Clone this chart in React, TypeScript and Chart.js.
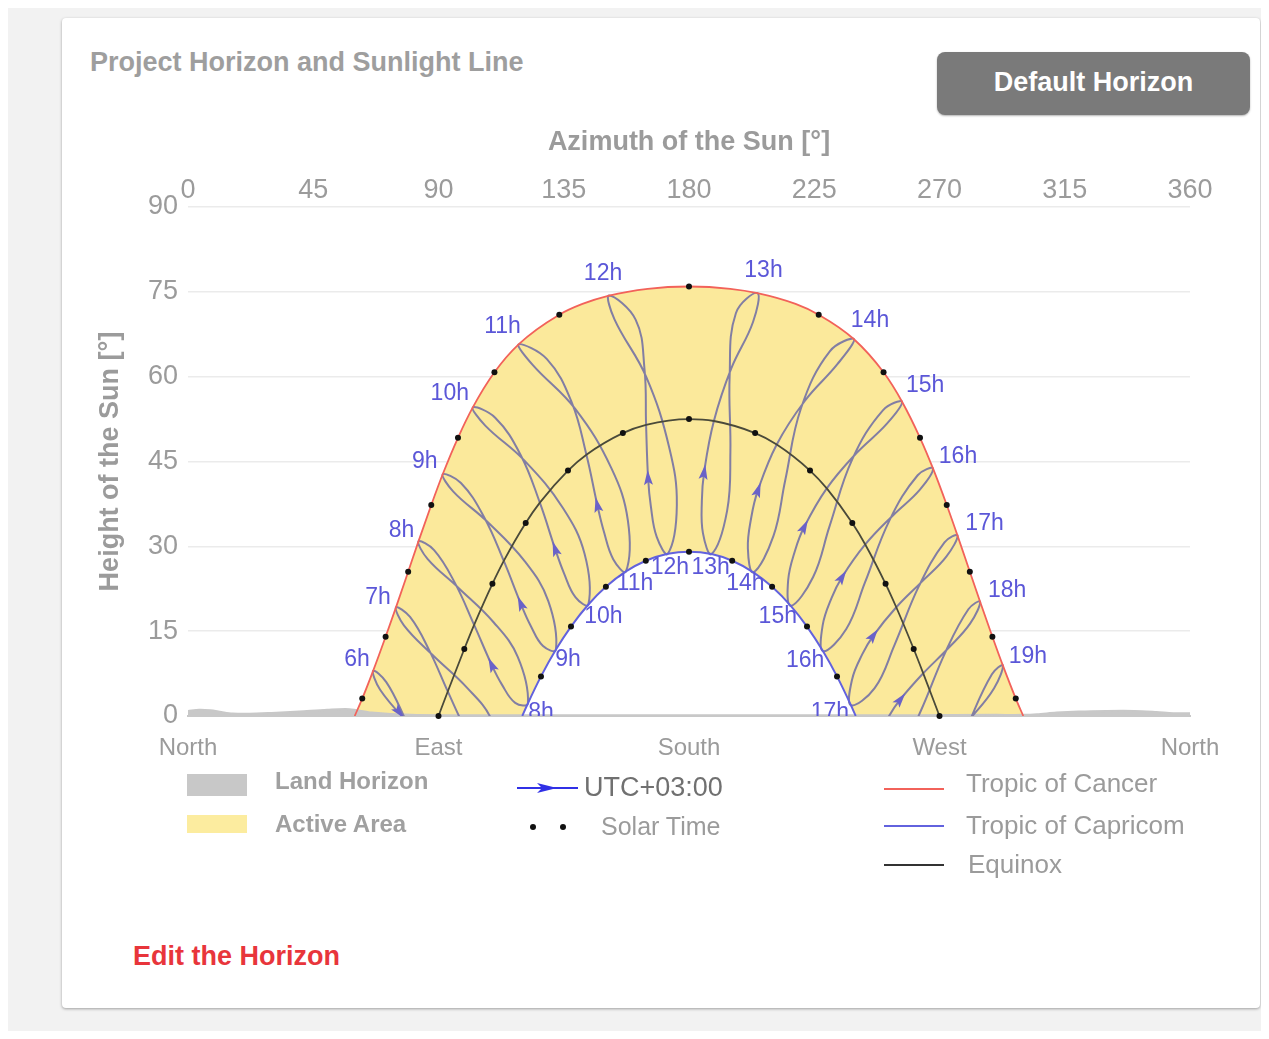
import React, { useEffect, useRef } from 'react';
import { Chart, registerables } from 'chart.js';

Chart.register(...registerables);

const FONT = "'Liberation Sans', Arial, Helvetica, sans-serif";

// ---------------- data ----------------
// clock hours (UTC+03:00) of the analemmas
const hours = [6, 7, 8, 9, 10, 11, 12, 13, 14, 15, 16, 17, 18, 19];
// dates along each analemma: Jun21, Jul26, Sep1, Oct5, Nov3, Dec21, Jan21, Feb11, Feb25, Mar21, Apr15, May14
const analemmaAz = [
  [66.51, 69.03, 78.74, 90.89, 100.0, 105.07, 100.26, 94.86, 90.8, 84.16, 77.64, 71.24],
  [74.72, 77.57, 87.79, 100.04, 108.84, 113.26, 108.65, 103.63, 99.8, 93.33, 86.64, 79.78],
  [82.8, 86.05, 97.1, 109.79, 118.43, 122.14, 117.56, 112.79, 109.14, 102.8, 95.89, 88.42],
  [91.51, 95.32, 107.65, 121.02, 129.42, 132.19, 127.56, 123.02, 119.57, 113.46, 106.35, 98.06],
  [102.32, 106.8, 120.9, 134.76, 142.5, 143.85, 139.18, 135.03, 131.93, 126.41, 119.51, 110.37],
  [118.77, 123.75, 139.13, 152.06, 158.04, 157.35, 152.82, 149.41, 147.08, 143.14, 137.83, 128.96],
  [151.27, 153.23, 164.63, 172.89, 175.63, 172.42, 168.4, 166.28, 165.3, 164.58, 164.01, 160.82],
  [204.61, 196.84, 194.6, 194.87, 193.7, 188.11, 185.01, 184.62, 185.41, 188.94, 195.19, 203.0],
  [239.28, 230.58, 220.3, 214.56, 210.35, 203.13, 201.15, 202.43, 204.78, 211.52, 221.59, 233.31],
  [256.55, 249.74, 238.69, 230.51, 224.6, 216.57, 215.62, 218.11, 221.38, 229.5, 240.09, 251.03],
  [267.66, 262.16, 252.03, 243.23, 236.51, 228.17, 228.02, 231.24, 234.96, 243.32, 253.35, 262.97],
  [276.48, 271.8, 262.64, 253.82, 246.7, 238.17, 238.6, 242.27, 246.18, 254.47, 263.86, 272.45],
  [284.59, 280.38, 271.97, 263.26, 255.81, 247.02, 247.88, 251.88, 255.92, 264.16, 273.12, 281.04],
  [292.76, 288.83, 281.02, 272.39, 264.54, 255.2, 256.41, 260.76, 265.0, 273.33, 282.12, 289.61],
];
const analemmaAlt = [
  [7.99, 4.64, -0.99, -6.74, -11.93, -19.52, -20.12, -17.48, -14.35, -7.55, -0.13, 6.0],
  [19.21, 16.03, 10.82, 5.1, -0.41, -8.28, -8.61, -5.75, -2.5, 4.34, 11.65, 17.51],
  [30.87, 27.79, 22.69, 16.58, 10.49, 2.25, 2.33, 5.55, 9.0, 16.11, 23.54, 29.33],
  [42.74, 39.68, 34.3, 27.34, 20.37, 11.74, 12.36, 16.06, 19.85, 27.42, 35.2, 41.2],
  [54.56, 51.35, 45.15, 36.74, 28.65, 19.71, 21.02, 25.32, 29.5, 37.72, 46.16, 52.74],
  [65.72, 62.14, 54.3, 43.86, 34.57, 25.56, 27.69, 32.62, 37.26, 46.2, 55.49, 63.11],
  [74.34, 70.14, 59.96, 47.47, 37.29, 28.68, 31.66, 37.13, 42.08, 51.48, 61.36, 70.08],
  [74.77, 71.22, 60.06, 46.66, 36.32, 28.63, 32.34, 38.08, 43.05, 52.16, 61.45, 69.67],
  [66.62, 64.48, 54.51, 41.65, 31.84, 25.41, 29.64, 35.28, 39.94, 48.01, 55.7, 62.2],
  [55.57, 54.1, 45.43, 33.58, 24.58, 19.47, 23.97, 29.27, 33.41, 40.25, 46.44, 51.65],
  [43.77, 42.57, 34.6, 23.61, 15.38, 11.44, 16.02, 20.89, 24.54, 30.33, 35.51, 40.04],
  [31.9, 30.7, 23.0, 12.54, 4.92, 1.91, 6.47, 10.93, 14.18, 19.23, 23.85, 28.18],
  [20.21, 18.87, 11.13, 0.89, -6.34, -8.64, -4.15, -0.02, 2.92, 7.55, 11.97, 16.37],
  [8.94, 7.37, -0.68, -10.99, -18.06, -19.9, -15.47, -11.58, -8.81, -4.34, 0.18, 4.9],
];

// Tropic of Cancer path
const cancerAz = [59.9, 62.6, 66.51, 71.0, 74.72, 79.1, 82.8, 87.4, 91.51, 97.0, 102.32, 110.1, 118.77, 133.4, 141.72, 151.27, 165.17, 180, 194.83, 204.61, 218.28, 226.6, 239.28, 249.9, 256.55, 263.0, 267.66, 272.6, 276.48, 280.9, 284.59, 289.0, 292.76, 297.4, 300.1];
const cancerAlt = [0, 3.08, 7.99, 14.02, 19.21, 25.51, 30.87, 37.31, 42.74, 49.19, 54.56, 60.77, 65.72, 70.96, 72.86, 74.34, 75.54, 75.94, 75.54, 74.77, 72.86, 70.96, 66.62, 60.77, 55.57, 49.19, 43.77, 37.31, 31.9, 25.51, 20.21, 14.02, 8.94, 3.08, 0];
// Equinox path
const equinoxAz = [90, 93.33, 99.27, 102.8, 109.37, 113.46, 121.33, 126.41, 136.52, 143.14, 156.24, 164.58, 180, 188.94, 203.76, 211.52, 223.48, 229.5, 238.67, 243.32, 250.63, 254.47, 260.73, 264.16, 270];
const equinoxAlt = [0, 4.34, 11.85, 16.11, 23.37, 27.42, 34.12, 37.72, 43.4, 46.2, 50.02, 51.48, 52.5, 52.16, 50.02, 48.01, 43.4, 40.25, 34.12, 30.33, 23.37, 19.23, 11.85, 7.55, 0];
// Tropic of Capricorn path
const capricornAz = [120.1, 122.14, 126.82, 132.19, 137.6, 143.85, 150.14, 157.35, 164.48, 172.42, 180, 188.11, 195.52, 203.13, 209.86, 216.57, 222.4, 228.17, 233.18, 238.17, 239.9];
const capricornAlt = [0, 2.25, 7.0, 11.74, 15.81, 19.71, 22.84, 25.56, 27.45, 28.68, 29.06, 28.63, 27.45, 25.41, 22.84, 19.47, 15.81, 11.44, 7.0, 1.91, 0];

// solar-time hour marks
const cancerHourAz = [62.6, 71.0, 79.1, 87.4, 97.0, 110.1, 133.4, 180, 226.6, 249.9, 263.0, 272.6, 280.9, 289.0, 297.4];
const cancerHourAlt = [3.08, 14.02, 25.51, 37.31, 49.19, 60.77, 70.96, 75.94, 70.96, 60.77, 49.19, 37.31, 25.51, 14.02, 3.08];
const equinoxHourAz = [90, 99.27, 109.37, 121.33, 136.52, 156.24, 180, 203.76, 223.48, 238.67, 250.63, 260.73, 270];
const equinoxHourAlt = [0, 11.85, 23.37, 34.12, 43.4, 50.02, 52.5, 50.02, 43.4, 34.12, 23.37, 11.85, 0];
const capricornHourAz = [126.82, 137.6, 150.14, 164.48, 180, 195.52, 209.86, 222.4, 233.18];
const capricornHourAlt = [7.0, 15.81, 22.84, 27.45, 29.06, 27.45, 22.84, 15.81, 7.0];

// land horizon
const landAz = [0, 4, 8, 12, 16, 22, 30, 40, 50, 58, 66, 80, 100, 140, 180, 220, 260, 290, 300, 305, 312, 320, 330, 340, 348, 354, 360];
const landAlt = [0.9, 1.1, 1.0, 0.7, 0.45, 0.4, 0.55, 0.8, 1.1, 1.2, 0.6, 0.2, 0.15, 0.15, 0.15, 0.15, 0.15, 0.2, 0.2, 0.3, 0.6, 0.8, 0.9, 0.9, 0.7, 0.5, 0.5];

const compassLabels = ['North', 'East', 'South', 'West', 'North'];
const azStep = 45;
const altStep = 15;

// arrows: [analemma index, date index, fraction toward next date]
const arrowSpecs = [
  [0, 1, 0.7], [2, 8, 0], [3, 8, 0], [4, 8, 0], [5, 8, 0], [6, 8, 0], [7, 8, 0],
  [8, 8, 0], [9, 8, 0], [10, 8, 0], [11, 8, 0], [12, 8, 0],
];

// ---------------- styles ----------------
const upperLabelOffset = [[-16, -11], [-18, -10], [-17, -11], [-18, -13], [-23, -14], [-16, -18], [-6, -22], [6, -22], [16, -19], [23, -16], [25, -12], [27, -12], [27, -11], [25, -9]];
const lowerLabelOffset = [null, null, [13, 9], [12, 10], [15, 12], [9, 12], [2, 14], [-1, 14], [-8, 11], [-13, 11], [-18, 9], [-21, 7], null, null];

const GRAY_TEXT = '#9b9b9b';
const YELLOW = '#fbe99b';
const ANALEMMA = '#827ea3';
const LABEL_BLUE = '#5b57d8';

const xy = (az: number[], alt: number[]) => az.map((a, i) => ({ x: a, y: alt[i] }));

const overlayPlugin = {
  id: 'overlay',
  afterDraw(chart: any) {
    const { ctx, chartArea: a, scales } = chart;
    const xs = scales.x;
    const ys = scales.y;
    const P = (az: number, h: number) => [xs.getPixelForValue(az), ys.getPixelForValue(h)];
    ctx.save();
    ctx.beginPath();
    ctx.rect(a.left, a.top, a.right - a.left, a.bottom - a.top);
    ctx.clip();
    // arrows
    ctx.fillStyle = '#6a62c8';
    arrowSpecs.forEach(([i, d, t]) => {
      const n = analemmaAz[i].length;
      const p0 = P(analemmaAz[i][d], analemmaAlt[i][d]);
      const pn = P(analemmaAz[i][(d + 1) % n], analemmaAlt[i][(d + 1) % n]);
      const pp = P(analemmaAz[i][(d - 1 + n) % n], analemmaAlt[i][(d - 1 + n) % n]);
      let x = p0[0], y = p0[1], dx = pn[0] - pp[0], dy = pn[1] - pp[1];
      if (t > 0) {
        x = p0[0] + (pn[0] - p0[0]) * t;
        y = p0[1] + (pn[1] - p0[1]) * t;
        dx = pn[0] - p0[0];
        dy = pn[1] - p0[1];
      }
      ctx.save();
      ctx.translate(x, y);
      ctx.rotate(Math.atan2(dy, dx));
      ctx.beginPath();
      ctx.moveTo(8, 0);
      ctx.lineTo(-7, -4.5);
      ctx.lineTo(-4, 0);
      ctx.lineTo(-7, 4.5);
      ctx.closePath();
      ctx.fill();
      ctx.restore();
    });
    // hour labels
    ctx.font = `23px ${FONT}`;
    ctx.fillStyle = LABEL_BLUE;
    ctx.textAlign = 'center';
    ctx.textBaseline = 'middle';
    hours.forEach((hr, i) => {
      const [px, py] = P(analemmaAz[i][0], analemmaAlt[i][0]);
      const [ox, oy] = upperLabelOffset[i];
      ctx.fillText(`${hr}h`, px + ox, py + oy);
      const lo = lowerLabelOffset[i];
      if (lo && analemmaAlt[i][5] > 0) {
        const [qx, qy] = P(analemmaAz[i][5], analemmaAlt[i][5]);
        ctx.fillText(`${hr}h`, qx + lo[0], qy + lo[1]);
      }
    });
    ctx.restore();
  },
};

function ChartView() {
  const ref = useRef<HTMLCanvasElement | null>(null);
  useEffect(() => {
    if (!ref.current) return;
    const loopIdx = [0, 1, 2, 3, 4, 5, 6, 7, 8, 9, 10, 11, 0, 1, 2];
    const analemmaSets = hours.map((hr, i) => ({
      label: `${hr}h`,
      data: loopIdx.map((k) => ({ x: analemmaAz[i][k], y: analemmaAlt[i][k] })),
      borderColor: ANALEMMA,
      borderWidth: 2,
      pointRadius: 0,
      tension: 0.4,
      fill: false,
      order: 5,
      segment: {
        borderColor: (c: any) => (c.p0DataIndex === 0 || c.p0DataIndex === 13 ? 'rgba(0,0,0,0)' : undefined),
      },
    }));
    const chart = new Chart(ref.current, {
      type: 'line',
      data: {
        datasets: [
          { label: 'Active Area', data: xy(cancerAz, cancerAlt), borderWidth: 0, borderColor: 'rgba(0,0,0,0)', backgroundColor: YELLOW, fill: 'origin', pointRadius: 0, cubicInterpolationMode: 'monotone', order: 10 },
          { label: 'inner', data: xy(capricornAz, capricornAlt), borderWidth: 0, borderColor: 'rgba(0,0,0,0)', backgroundColor: '#ffffff', fill: 'origin', pointRadius: 0, cubicInterpolationMode: 'monotone', order: 9 },
          { label: 'Land Horizon', data: xy(landAz, landAlt), borderWidth: 2, borderColor: '#c8c8c8', backgroundColor: '#c8c8c8', fill: 'origin', pointRadius: 0, tension: 0.3, order: 8 },
          ...analemmaSets,
          { label: 'Equinox', data: xy(equinoxAz, equinoxAlt), borderWidth: 1.8, borderColor: '#4a4a3a', fill: false, pointRadius: 0, cubicInterpolationMode: 'monotone', order: 3 },
          { label: 'Tropic of Cancer', data: xy(cancerAz, cancerAlt), borderWidth: 1.8, borderColor: '#f2625a', fill: false, pointRadius: 0, cubicInterpolationMode: 'monotone', order: 2 },
          { label: 'Tropic of Capricom', data: xy(capricornAz, capricornAlt), borderWidth: 2, borderColor: '#6262de', fill: false, pointRadius: 0, cubicInterpolationMode: 'monotone', order: 2 },
          {
            label: 'Solar Time',
            data: [...xy(cancerHourAz, cancerHourAlt), ...xy(equinoxHourAz, equinoxHourAlt), ...xy(capricornHourAz, capricornHourAlt)],
            showLine: false, pointRadius: 3, pointBorderWidth: 0, pointBackgroundColor: '#111111', order: 1, clip: false,
          },
        ] as any,
      },
      options: {
        responsive: false,
        maintainAspectRatio: false,
        animation: false,
        events: [],
        layout: { padding: { left: 0, right: 70, top: 0, bottom: 32 } },
        elements: { line: { capBezierPoints: false } },
        plugins: { legend: { display: false }, tooltip: { enabled: false } },
        scales: {
          x: {
            type: 'linear', position: 'top', min: 0, max: 360,
            afterFit: (s: any) => { s.height = 89; },
            ticks: { stepSize: azStep, padding: 0, maxRotation: 0, color: GRAY_TEXT, font: { family: FONT, size: 27 } },
            grid: { display: false, drawTicks: false },
            border: { display: false },
            title: { display: true, text: 'Azimuth of the Sun [°]', color: GRAY_TEXT, padding: { top: 8, bottom: 0 }, font: { family: FONT, size: 27, weight: 'bold' } },
          },
          x2: {
            type: 'linear', position: 'bottom', min: 0, max: 360,
            afterFit: (s: any) => { s.height = 50; },
            ticks: { stepSize: 90, padding: 18, maxRotation: 0, autoSkip: false, color: GRAY_TEXT, font: { family: FONT, size: 24 }, callback: (v: any) => compassLabels[Math.round(Number(v) / 90)] },
            grid: { display: false, drawTicks: false },
            border: { display: true, color: '#c8c8c8', width: 2 },
          },
          y: {
            type: 'linear', min: 0, max: 90, z: 1,
            afterFit: (s: any) => { s.width = 126; },
            ticks: { stepSize: altStep, padding: 10, color: GRAY_TEXT, font: { family: FONT, size: 27 } },
            grid: { color: 'rgba(0,0,0,0.08)', lineWidth: 1.5, drawTicks: false },
            border: { display: false },
            title: { display: true, text: 'Height of the Sun [°]', color: GRAY_TEXT, padding: { top: 32, bottom: 0 }, font: { family: FONT, size: 27, weight: 'bold' } },
          },
        } as any,
      },
      plugins: [overlayPlugin],
    } as any);
    return () => chart.destroy();
  }, []);
  return <canvas ref={ref} width={1198} height={680} style={{ position: 'absolute', left: 0, top: 100, width: 1198, height: 680 }} />;
}

function Txt(props: { x: number; cy: number; size: number; weight?: any; color: string; children: any }) {
  const { x, cy, size, weight, color, children } = props;
  return (
    <div style={{ position: 'absolute', left: x, top: cy - 20, height: 40, lineHeight: '40px', fontSize: size, fontWeight: weight || 'normal', color, fontFamily: FONT, whiteSpace: 'nowrap' }}>
      {children}
    </div>
  );
}

export default function App() {
  return (
    <div style={{ position: 'relative', width: 1261, height: 1023, background: '#f2f2f2' }}>
      <div style={{ position: 'absolute', left: 54, top: 10, width: 1198, height: 990, background: '#ffffff', borderRadius: 4, boxShadow: '0 1px 3px rgba(0,0,0,0.35)' }}>
        <Txt x={28} cy={44} size={27} weight="bold" color="#9e9e9e">Project Horizon and Sunlight Line</Txt>
        <div style={{ position: 'absolute', left: 875, top: 34, width: 313, height: 63, background: '#7a7a7a', borderRadius: 8, color: '#fff', fontFamily: FONT, fontWeight: 'bold', fontSize: 27, lineHeight: '60px', textAlign: 'center', boxShadow: '0 1px 2px rgba(0,0,0,0.3)' }}>
          Default Horizon
        </div>
        <ChartView />
        {/* legend */}
        <div style={{ position: 'absolute', left: 125, top: 756, width: 60, height: 22, background: '#c8c8c8' }} />
        <Txt x={213} cy={763} size={24} weight="bold" color="#a0a0a0">Land Horizon</Txt>
        <div style={{ position: 'absolute', left: 125, top: 797, width: 60, height: 18, background: '#fcec9f' }} />
        <Txt x={213} cy={806} size={24} weight="bold" color="#a0a0a0">Active Area</Txt>
        <svg style={{ position: 'absolute', left: 455, top: 763 }} width={62} height={14}>
          <line x1={0} y1={7} x2={61} y2={7} stroke="#3030e6" strokeWidth={2} />
          <polygon points="20,2 40,7 20,12 25,7" fill="#3030e6" />
        </svg>
        <Txt x={522} cy={769} size={27} color="#707070">UTC+03:00</Txt>
        <div style={{ position: 'absolute', left: 468, top: 806, width: 6, height: 6, borderRadius: 3, background: '#111' }} />
        <div style={{ position: 'absolute', left: 498, top: 806, width: 6, height: 6, borderRadius: 3, background: '#111' }} />
        <Txt x={539} cy={808} size={25} color={GRAY_TEXT}>Solar Time</Txt>
        <div style={{ position: 'absolute', left: 822, top: 770, width: 60, height: 2, background: '#f2625a' }} />
        <Txt x={904} cy={765} size={26} color={GRAY_TEXT}>Tropic of Cancer</Txt>
        <div style={{ position: 'absolute', left: 822, top: 807, width: 60, height: 2, background: '#6262de' }} />
        <Txt x={904} cy={807} size={26} color={GRAY_TEXT}>Tropic of Capricom</Txt>
        <div style={{ position: 'absolute', left: 822, top: 846, width: 60, height: 2, background: '#333' }} />
        <Txt x={906} cy={846} size={26} color={GRAY_TEXT}>Equinox</Txt>
        <Txt x={71} cy={938} size={27} weight="bold" color="#e8353b">Edit the Horizon</Txt>
      </div>
    </div>
  );
}
